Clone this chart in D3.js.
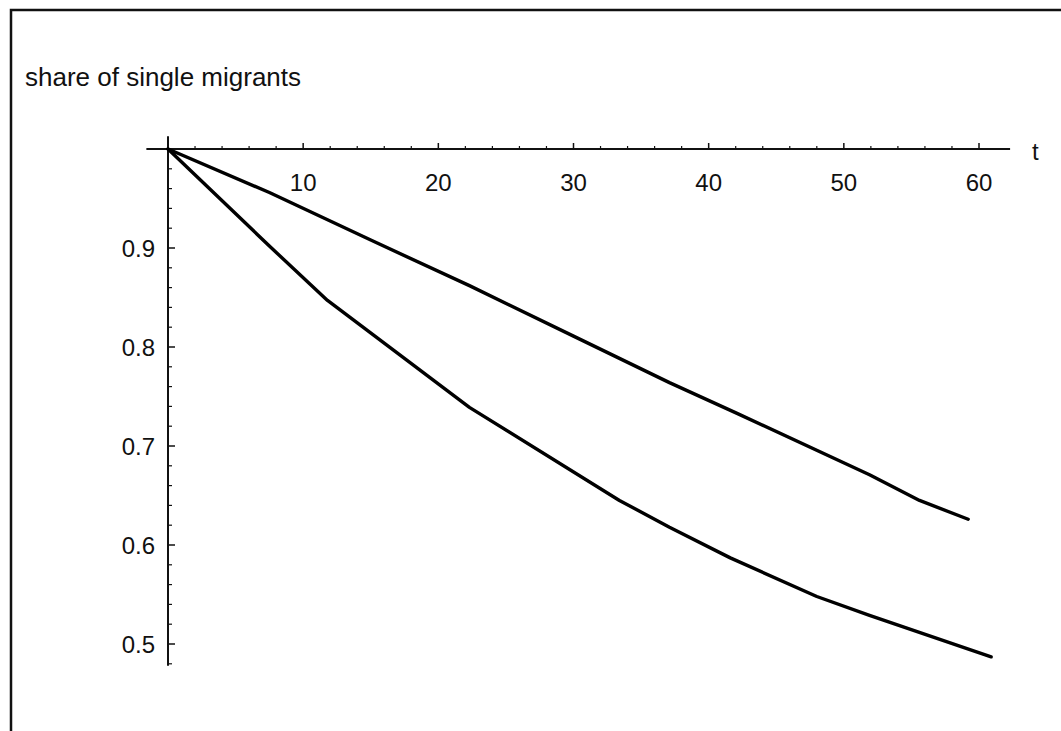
<!DOCTYPE html>
<html>
<head>
<meta charset="utf-8">
<script src="https://cdn.jsdelivr.net/npm/d3@7"></script>
<style>
  html, body { margin: 0; padding: 0; background: #fff; }
  svg { display: block; }
  text { font-family: "Liberation Sans", Arial, sans-serif; fill: #111; }
</style>
</head>
<body>
<div id="chartContainer"></div>
<script>
// share of single migrants over time, two scenarios
const upperT = [0, 7.5, 15, 22.3, 30, 37.1, 42.1, 51.9, 55.6, 59.2];
const upperV = [1.0, 0.956, 0.908, 0.862, 0.811, 0.764, 0.733, 0.671, 0.645, 0.626];
const lowerT = [0, 7.5, 11.8, 22.3, 33.4, 37.1, 41.6, 48.0, 51.9, 60.9];
const lowerV = [1.0, 0.902, 0.847, 0.739, 0.645, 0.618, 0.587, 0.548, 0.529, 0.487];

const xMajor = [10, 20, 30, 40, 50, 60];
const yMajor = [0.5, 0.6, 0.7, 0.8, 0.9];
const yLabel = "share of single migrants";
const xLabel = "t";

(function() {
    const chartContainer = document.getElementById('chartContainer');
    const fullWidth = 1061;
    const fullHeight = 731;
    const tickFont = "24px";

    const svg = d3.create("svg")
        .attr("width", fullWidth)
        .attr("height", fullHeight)
        .attr("viewBox", [0, 0, fullWidth, fullHeight]);

    // frame (only top and left edges show in the scan)
    svg.append("rect")
        .attr("x", 11).attr("y", 10)
        .attr("width", fullWidth + 20).attr("height", fullHeight + 20)
        .attr("fill", "none")
        .attr("stroke", "#111")
        .attr("stroke-width", 2.5);

    const x = d3.scaleLinear().domain([0, 60]).range([168, 979]);
    const y = d3.scaleLinear().domain([0.5, 1]).range([644, 149]);

    const xMinor = d3.range(2, 62, 2).filter(d => d % 10 !== 0);
    const yMinor = d3.range(0.48, 1.0, 0.02).filter(d => Math.abs(d * 10 - Math.round(d * 10)) > 0.01);

    // x axis: ticks point up, labels below
    const gx = svg.append("g").attr("transform", `translate(0, ${y(1)})`);
    gx.append("line")
        .attr("x1", x(-1.6)).attr("x2", x(62.3))
        .attr("stroke", "#111").attr("stroke-width", 2);
    gx.selectAll(".minor")
        .data(xMinor)
        .join("line")
          .attr("class", "minor")
          .attr("x1", d => x(d)).attr("x2", d => x(d))
          .attr("y1", 0).attr("y2", -3)
          .attr("stroke", "#111").attr("stroke-width", 1.2);
    gx.selectAll(".major")
        .data(xMajor)
        .join("line")
          .attr("class", "major")
          .attr("x1", d => x(d)).attr("x2", d => x(d))
          .attr("y1", 0).attr("y2", -6)
          .attr("stroke", "#111").attr("stroke-width", 1.5);
    gx.selectAll("text")
        .data(xMajor)
        .join("text")
          .attr("x", d => x(d))
          .attr("y", 42)
          .attr("text-anchor", "middle")
          .style("font-size", tickFont)
          .text(d => d);
    gx.append("text")
        .attr("x", 1032)
        .attr("y", 11)
        .style("font-size", tickFont)
        .text(xLabel);

    // y axis: ticks point right, labels left
    const gy = svg.append("g").attr("transform", `translate(${x(0)}, 0)`);
    gy.append("line")
        .attr("y1", y(1.013)).attr("y2", y(0.478))
        .attr("stroke", "#111").attr("stroke-width", 2);
    gy.selectAll(".minor")
        .data(yMinor)
        .join("line")
          .attr("class", "minor")
          .attr("y1", d => y(d)).attr("y2", d => y(d))
          .attr("x1", 0).attr("x2", 4)
          .attr("stroke", "#111").attr("stroke-width", 1.2);
    gy.selectAll(".major")
        .data(yMajor)
        .join("line")
          .attr("class", "major")
          .attr("y1", d => y(d)).attr("y2", d => y(d))
          .attr("x1", 0).attr("x2", 7)
          .attr("stroke", "#111").attr("stroke-width", 1.5);
    gy.selectAll("text")
        .data(yMajor)
        .join("text")
          .attr("x", -13)
          .attr("y", d => y(d))
          .attr("dy", "0.36em")
          .attr("text-anchor", "end")
          .style("font-size", tickFont)
          .text(d => d.toFixed(1));

    svg.append("text")
        .attr("x", 25)
        .attr("y", 86)
        .style("font-size", "26px")
        .text(yLabel);

    // curves
    const line = d3.line()
        .x(d => x(d[0]))
        .y(d => y(d[1]));

    const series = [
        d3.zip(upperT, upperV),
        d3.zip(lowerT, lowerV)
    ];

    svg.append("g")
        .selectAll("path")
        .data(series)
        .join("path")
          .attr("d", line)
          .attr("fill", "none")
          .attr("stroke", "#000")
          .attr("stroke-width", 3.4)
          .attr("stroke-linejoin", "round")
          .attr("stroke-linecap", "round");

    chartContainer.append(svg.node());
})();
</script>
</body>
</html>
